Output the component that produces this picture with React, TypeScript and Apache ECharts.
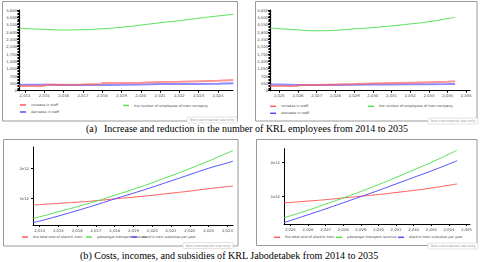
import React, { useEffect, useRef } from "react";
import * as echarts from "echarts";

// ---- (a) employees, left panel (2014..2024) ----
const topLeftYears = [2013.7, 2014, 2015, 2016, 2017, 2018, 2019, 2020, 2021, 2022, 2023, 2024, 2024.8];
const topLeftEmployees = [2990, 2965, 2925, 2898, 2908, 2955, 3025, 3130, 3240, 3340, 3455, 3565, 3645];
const topLeftIncrease = [224, 224, 286, 300, 320, 367, 382, 415, 430, 448, 477, 510, 510];
const topLeftDecrease = [286, 286, 270, 270, 270, 280, 300, 320, 320, 320, 330, 350, 350];

// ---- (a) employees, right panel (2025..2035) ----
const topRightYears = [2024.5, 2025, 2026, 2027, 2028, 2029, 2030, 2031, 2032, 2033, 2034, 2034.4];
const topRightEmployees = [2990, 2960, 2900, 2858, 2885, 2950, 3010, 3090, 3185, 3290, 3440, 3500];
const topRightIncrease = [224, 224, 270, 300, 320, 345, 365, 385, 405, 425, 445, 463];
const topRightDecrease = [300, 270, 270, 270, 280, 290, 300, 305, 310, 320, 325, 330];

// ---- (b) costs, left panel ----
const botLeftYears = [2013.65, 2014, 2015, 2016, 2017, 2018, 2019, 2020, 2021, 2022, 2023, 2024, 2024.3];
const botLeftCost = [0.76, 0.78, 0.82, 0.86, 0.91, 0.97, 1.03, 1.09, 1.16, 1.23, 1.31, 1.38, 1.4];
const botLeftRevenue = [0.32, 0.37, 0.54, 0.71, 0.89, 1.09, 1.29, 1.51, 1.74, 1.98, 2.23, 2.5, 2.58];
const botLeftSubsidy = [0.18, 0.23, 0.4, 0.58, 0.77, 0.97, 1.16, 1.36, 1.57, 1.78, 1.99, 2.17, 2.23];

// ---- (b) costs, right panel ----
const botRightYears = [2024.64, 2025, 2026, 2027, 2028, 2029, 2030, 2031, 2032, 2033, 2034, 2034.47];
const botRightCost = [0.82, 0.83, 0.87, 0.91, 0.96, 1.01, 1.06, 1.12, 1.18, 1.25, 1.33, 1.37];
const botRightRevenue = [0.38, 0.44, 0.6, 0.78, 0.96, 1.15, 1.35, 1.56, 1.78, 2.0, 2.24, 2.36];
const botRightSubsidy = [0.24, 0.3, 0.47, 0.64, 0.82, 1.0, 1.18, 1.37, 1.56, 1.75, 1.95, 2.05];

const leftTicks = [2014, 2015, 2016, 2017, 2018, 2019, 2020, 2021, 2022, 2023, 2024];
const rightTicks = [2025, 2026, 2027, 2028, 2029, 2030, 2031, 2032, 2033, 2034, 2035];
const costTicks = [1e12, 2e12];

const NAME_INC = "increase in staff";
const NAME_DEC = "decrease in staff";
const NAME_EMP = "the number of employees of train company";
const NAME_COST = "the total cost of electric train";
const NAME_REV = "passenger transport revenue";
const NAME_SUB = "electric train subsidies per year";

const RED = "#ff5c5c";
const GREEN = "#55e055";
const BLUE = "#5050ff";
const FONT = "DejaVu Sans, Verdana, sans-serif";

const zip = (xs: number[], ys: number[], k = 1) => xs.map((x, i) => [x, ys[i] * k]);

function xAxis(gridIndex: number, min: number, max: number, ticks: number[]) {
  return {
    type: "value",
    gridIndex,
    min,
    max,
    axisLine: { show: true, onZero: false, lineStyle: { color: "#000", width: 1 } },
    axisTick: { show: true, customValues: ticks, length: 2, lineStyle: { color: "#000" } },
    axisLabel: {
      customValues: ticks,
      fontSize: 3.8,
      fontFamily: FONT,
      color: "#444",
      margin: 3,
      formatter: (v: number) => v.toLocaleString("en-US"),
    },
    splitLine: { show: false },
  };
}

function staffYAxis(gridIndex: number) {
  return {
    type: "value",
    gridIndex,
    min: 0,
    max: 3850,
    interval: 350,
    axisLine: { show: true, lineStyle: { color: "#000", width: 1.2 } },
    axisTick: { show: true, length: 2, lineStyle: { color: "#000" } },
    minorTick: { show: true, splitNumber: 5, length: 1.5, lineStyle: { color: "#000" } },
    axisLabel: {
      fontSize: 3.8,
      fontFamily: FONT,
      color: "#444",
      margin: 2,
      formatter: (v: number) => v.toLocaleString("en-US"),
    },
    splitLine: { show: false },
  };
}

function costYAxis(gridIndex: number, min: number, max: number) {
  return {
    type: "value",
    gridIndex,
    min,
    max,
    axisLine: { show: true, lineStyle: { color: "#000", width: 1 } },
    axisTick: { show: true, customValues: costTicks, length: 2, lineStyle: { color: "#000" } },
    axisLabel: {
      customValues: costTicks,
      fontSize: 3.8,
      fontFamily: FONT,
      color: "#444",
      margin: 4,
      formatter: (v: number) => `${Math.round(v / 1e12)}e12`,
    },
    splitLine: { show: false },
  };
}

function line(name: string, color: string, idx: number, data: number[][], extra: any = {}) {
  return {
    type: "line",
    name,
    xAxisIndex: idx,
    yAxisIndex: idx,
    data,
    showSymbol: false,
    symbol: "none",
    color,
    lineStyle: { color, width: 1 },
    ...extra,
  };
}

function legend(name: string, left: number, centerY: number) {
  return {
    data: [name],
    left,
    top: centerY - 2.5,
    padding: 0,
    itemWidth: 6,
    itemHeight: 1.5,
    itemGap: 2,
    icon: "rect",
    textStyle: { fontSize: 3.4, fontFamily: FONT, color: "#444" },
  };
}

function panel(x: number, y: number, w: number, h: number) {
  return {
    type: "rect",
    shape: { x, y, width: w, height: h },
    style: { fill: "none", stroke: "#9a9a9a", lineWidth: 1 },
    silent: true,
  };
}

function watermark(x: number, y: number) {
  return {
    type: "group",
    x,
    y,
    children: [
      {
        type: "rect",
        shape: { x: 0, y: 0, width: 50, height: 6, r: 1 },
        style: { fill: "#fff", stroke: "#d0d0d0", lineWidth: 0.6 },
      },
      {
        type: "text",
        x: 25,
        y: 3,
        style: {
          text: "Non-commercial use only",
          fontSize: 3.5,
          fontFamily: FONT,
          fill: "#999",
          align: "center",
          verticalAlign: "middle",
        },
      },
    ],
  };
}

const staffExtra = { lineStyle: { width: 2, opacity: 0.65 }, step: "end" };
const SERIF = "Liberation Serif, Times New Roman, serif";

const option: any = {
  animation: false,
  backgroundColor: "#fff",
  grid: [
    { left: 19, right: 247, top: 10, bottom: 171.3 },
    { left: 270, right: 10, top: 10, bottom: 171.3 },
    { left: 33, right: 247, top: 147, bottom: 37 },
    { left: 284, right: 10, top: 148.7, bottom: 38 },
  ],
  xAxis: [
    xAxis(0, 2013.69, 2024.78, leftTicks),
    xAxis(1, 2024.5, 2035.2, rightTicks),
    xAxis(2, 2013.65, 2024.3, leftTicks),
    xAxis(3, 2024.64, 2035.2, rightTicks),
  ],
  yAxis: [
    staffYAxis(0),
    staffYAxis(1),
    costYAxis(2, 0.1e12, 2.7e12),
    costYAxis(3, 0.2e12, 2.4e12),
  ],
  legend: [
    legend(NAME_INC, 20, 106),
    legend(NAME_EMP, 123, 106.5),
    legend(NAME_DEC, 20, 113),
    legend(NAME_INC, 270, 107.3),
    legend(NAME_EMP, 368, 107.3),
    legend(NAME_DEC, 270, 114.3),
    legend(NAME_COST, 22, 238),
    legend(NAME_REV, 86, 238),
    legend(NAME_SUB, 131, 238),
    legend(NAME_COST, 274, 238.3),
    legend(NAME_REV, 336, 238.3),
    legend(NAME_SUB, 398, 238.3),
  ],
  series: [
    line(NAME_DEC, BLUE, 0, zip(topLeftYears, topLeftDecrease), staffExtra),
    line(NAME_INC, RED, 0, zip(topLeftYears, topLeftIncrease), staffExtra),
    line(NAME_EMP, GREEN, 0, zip(topLeftYears, topLeftEmployees), { smooth: true }),
    line(NAME_DEC, BLUE, 1, zip(topRightYears, topRightDecrease), staffExtra),
    line(NAME_INC, RED, 1, zip(topRightYears, topRightIncrease), staffExtra),
    line(NAME_EMP, GREEN, 1, zip(topRightYears, topRightEmployees), { smooth: true }),
    line(NAME_COST, RED, 2, zip(botLeftYears, botLeftCost, 1e12), { smooth: true }),
    line(NAME_REV, GREEN, 2, zip(botLeftYears, botLeftRevenue, 1e12), { smooth: true }),
    line(NAME_SUB, BLUE, 2, zip(botLeftYears, botLeftSubsidy, 1e12), { smooth: true }),
    line(NAME_COST, RED, 3, zip(botRightYears, botRightCost, 1e12), { smooth: true }),
    line(NAME_REV, GREEN, 3, zip(botRightYears, botRightRevenue, 1e12), { smooth: true }),
    line(NAME_SUB, BLUE, 3, zip(botRightYears, botRightSubsidy, 1e12), { smooth: true }),
  ],
  graphic: [
    panel(2.5, 1.5, 235, 119.5),
    panel(255.5, 1.5, 221.5, 119.5),
    panel(3.5, 139.5, 234.5, 106.5),
    panel(256.5, 139.5, 220.5, 106),
    watermark(187, 117),
    watermark(428, 118),
    watermark(183, 242.5),
    watermark(428, 243),
    {
      type: "text",
      x: 86,
      y: 128.5,
      style: { text: "(a)", fontSize: 10, fontFamily: SERIF, fill: "#000", verticalAlign: "middle" },
    },
    {
      type: "text",
      x: 104,
      y: 128.5,
      style: {
        text: "Increase and reduction in the number of KRL employees from 2014 to 2035",
        fontSize: 10,
        fontFamily: SERIF,
        fill: "#000",
        verticalAlign: "middle",
      },
    },
    {
      type: "text",
      x: 80,
      y: 255.5,
      style: {
        text: "(b) Costs, incomes, and subsidies of KRL Jabodetabek from 2014 to 2035",
        fontSize: 10.1,
        fontFamily: SERIF,
        fill: "#000",
        verticalAlign: "middle",
      },
    },
  ],
};

export default function App() {
  const ref = useRef<HTMLDivElement>(null);
  useEffect(() => {
    const chart = echarts.init(ref.current!, null, { renderer: "svg" });
    chart.setOption(option);
    return () => chart.dispose();
  }, []);
  return (
    <div
      ref={ref}
      style={{ position: "absolute", left: 0, top: 0, width: 480, height: 262, background: "#fff" }}
    />
  );
}
